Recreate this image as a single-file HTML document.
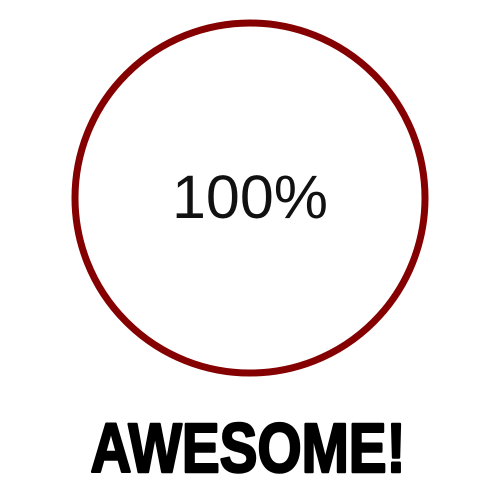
<!DOCTYPE html>
<html><head><meta charset="utf-8"><style>
html,body{margin:0;padding:0;background:#fff;width:500px;height:490px;overflow:hidden}
svg{display:block}
</style></head><body>
<svg width="500" height="490">
<circle cx="250" cy="198" r="175" fill="none" stroke="#850000" stroke-width="7"/>
<text x="250" y="218" text-anchor="middle" font-family="Liberation Sans, sans-serif" font-size="61" fill="#111">100%</text>
<text x="0" y="0" text-anchor="middle" font-family="Liberation Sans, sans-serif" font-weight="bold" font-size="70" fill="#000" stroke="#000" stroke-width="2.5" stroke-linejoin="round" transform="translate(248,472) scale(0.81,1)">AWESOME!</text>
</svg>
</body></html>
